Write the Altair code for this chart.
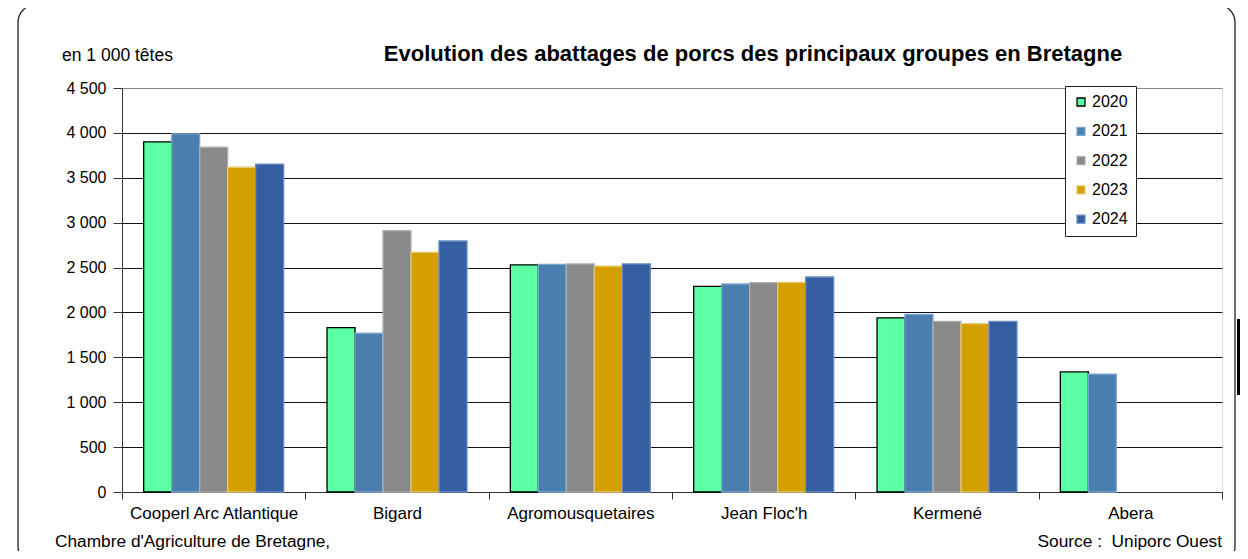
import altair as alt
import pandas as pd

groups = ["Cooperl Arc Atlantique", "Bigard", "Agromousquetaires", "Jean Floc'h", "Kermené", "Abera"]
years = ["2020", "2021", "2022", "2023", "2024"]
v2020 = [3900, 1830, 2530, 2290, 1940, 1337]
v2021 = [3990, 1768, 2535, 2317, 1979, 1314]
v2022 = [3840, 2911, 2540, 2332, 1901, None]
v2023 = [3617, 2670, 2515, 2336, 1875, None]
v2024 = [3653, 2796, 2540, 2395, 1901, None]

fills = ["#5cffa3", "#4a7fb0", "#898989", "#d4a000", "#355ea1"]
strokes = ["#000000", "#7ea6cc", "#b0b0b0", "#e8c870", "#6a8cc4"]

rows = []
for y, vals in zip(years, [v2020, v2021, v2022, v2023, v2024]):
    for g, v in zip(groups, vals):
        if v is not None:
            rows.append({"groupe": g, "annee": y, "valeur": v})
df = pd.DataFrame(rows)

FONT = "Liberation Sans"

box = alt.Chart(pd.DataFrame({"k": [0]})).mark_rect(
    fill="transparent", stroke="#222222", strokeWidth=1.3, cornerRadius=18
).encode(
    x=alt.value(-104), x2=alt.value(1113), y=alt.value(-83.5), y2=alt.value(476)
)

edge = alt.Chart(pd.DataFrame({"k": [0]})).mark_rect(fill="black").encode(
    x=alt.value(1115), x2=alt.value(1118), y=alt.value(231), y2=alt.value(307)
)

legend = alt.Legend(title=None, orient="none", legendX=943, legendY=-2,
                    strokeColor="#222222", fillColor="white", padding=8,
                    symbolType="square", symbolSize=64, symbolStrokeWidth=1.3,
                    labelFontSize=16, labelFont=FONT, labelColor="black",
                    rowPadding=13.3, labelOffset=3)

bars = alt.Chart(df).mark_bar(strokeWidth=1.3).encode(
    x=alt.X("groupe:N", sort=groups,
            scale=alt.Scale(paddingInner=0, paddingOuter=0),
            axis=alt.Axis(title=None, labelAngle=0, tickBand="extent", tickSize=7,
                          labelFontSize=17, labelPadding=6, labelFont=FONT,
                          labelColor="black", domainColor="#333333", tickColor="#333333",
                          grid=False)),
    xOffset=alt.XOffset("annee:N", sort=years,
                        scale=alt.Scale(paddingInner=0, paddingOuter=0.774)),
    y=alt.Y("valeur:Q",
            scale=alt.Scale(domain=[0, 4500], nice=False),
            axis=alt.Axis(title=None, values=list(range(0, 4501, 500)),
                          labelExpr="replace(format(datum.value, ',d'), ',', ' ')",
                          labelFontSize=16, labelFont=FONT, labelColor="black",
                          labelPadding=7, tickSize=9, tickColor="#333333",
                          domainColor="#333333",
                          gridColor={"condition": {"test": "datum.value == 4500", "value": "#888888"},
                                     "value": "#111111"},
                          gridWidth=1)),
    fill=alt.Fill("annee:N", sort=years, scale=alt.Scale(domain=years, range=fills),
                  legend=legend),
    stroke=alt.Stroke("annee:N", sort=years, scale=alt.Scale(domain=years, range=strokes),
                      legend=legend),
)

def txt(s, x, y, size, align="left", weight="normal"):
    return alt.Chart(pd.DataFrame({"k": [0]})).mark_text(
        text=s, align=align, baseline="alphabetic", fontSize=size, font=FONT,
        fontWeight=weight, color="black"
    ).encode(x=alt.value(x), y=alt.value(y))

title = txt("Evolution des abattages de porcs des principaux groupes en Bretagne", 631, -27, 22, "center", "bold")
unit = txt("en 1 000 têtes", -60, -27, 17.5)
foot1 = txt("Chambre d'Agriculture de Bretagne,", -67, 458.5, 17.3)
foot2 = txt("Source :\u00a0 Uniporc Ouest", 1100, 458.5, 17.3, "right")

chart = alt.layer(box, edge, bars, title, unit, foot1, foot2).properties(
    width=1100, height=404,
    autosize=alt.AutoSizeParams(type="none"),
    padding={"left": 114, "top": 80, "right": 18, "bottom": 59},
).configure_view(
    stroke="#888888", strokeWidth=2
).configure(background="white")

chart.save("out.html", embed_options={"renderer": "svg", "actions": False})
